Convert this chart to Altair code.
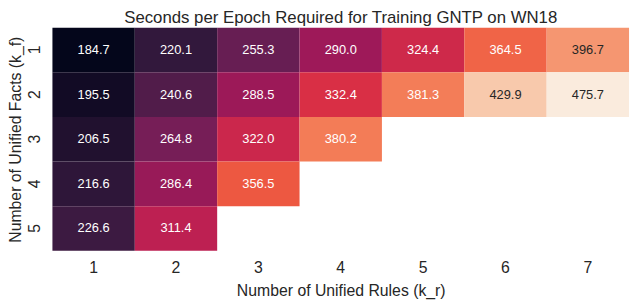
import altair as alt
import pandas as pd
import numpy as np

title = "Seconds per Epoch Required for Training GNTP on WN18"
rules = [1, 2, 3, 4, 5, 6, 7]
facts = [1, 2, 3, 4, 5]
row1 = [184.7, 220.1, 255.3, 290.0, 324.4, 364.5, 396.7]
row2 = [195.5, 240.6, 288.5, 332.4, 381.3, 429.9, 475.7]
row3 = [206.5, 264.8, 322.0, 380.2]
row4 = [216.6, 286.4, 356.5]
row5 = [226.6, 311.4]

# rocket colormap stops (position in [0, 1], colour)
rocket_pos = [0.0, 1 / 7, 2 / 7, 3 / 7, 4 / 7, 0.643, 5 / 7, 6 / 7, 1.0]
rocket_col = ["#03051a", "#35193e", "#701f57", "#ad1759", "#e13342", "#ee5a41", "#f37651", "#f6b48f", "#faebdd"]
# colour normalisation
c_lo, c_hi = 183.7, 454.0

records = []
for f, row in zip(facts, [row1, row2, row3, row4, row5]):
    for r, v in zip(rules, row):
        records.append({"rules": r, "facts": f, "sec": v, "label": f"{v:.1f}"})
df = pd.DataFrame(records)

dom = [c_lo + p * (c_hi - c_lo) for p in rocket_pos]

FONT = "Liberation Sans"
INK = "#262626"

base = alt.Chart(df).encode(
    x=alt.X("rules:O", sort=rules,
            scale=alt.Scale(domain=rules, paddingInner=0, paddingOuter=0),
            axis=alt.Axis(title="Number of Unified Rules (k_r)", labelAngle=0, ticks=False,
                          domain=False, labelPadding=9, labelFontSize=16, titleFontSize=16,
                          titlePadding=7, labelFont=FONT, titleFont=FONT, labelColor=INK,
                          titleColor=INK, titleFontWeight="normal")),
    y=alt.Y("facts:O", sort=facts,
            scale=alt.Scale(domain=facts, paddingInner=0, paddingOuter=0),
            axis=alt.Axis(title="Number of Unified Facts (k_f)", labelAngle=270, ticks=False,
                          domain=False, labelPadding=10, labelFontSize=16, titleFontSize=16,
                          titlePadding=3, labelFont=FONT, titleFont=FONT, labelColor=INK,
                          titleColor=INK, titleFontWeight="normal",
                          labelAlign="center", labelBaseline="bottom")),
)

rect = base.mark_rect(stroke=None).encode(
    color=alt.Color("sec:Q", legend=None,
                    scale=alt.Scale(domain=dom, range=rocket_col, interpolate="rgb", clamp=True)),
)

text = base.mark_text(fontSize=13, font=FONT).encode(
    text="label:N",
    color=alt.condition(alt.datum.sec > 390, alt.value(INK), alt.value("#ffffff")),
)

chart = (rect + text).properties(
    width=584, height=226,
    title=alt.TitleParams(title, fontSize=17, font=FONT, fontWeight="normal", color=INK, offset=1),
    autosize=alt.AutoSizeParams(type="none"),
    padding={"left": 45, "top": 18, "right": 3, "bottom": 50},
).configure_view(stroke=None)

chart.save("out.html", embed_options={"renderer": "svg", "actions": False})
